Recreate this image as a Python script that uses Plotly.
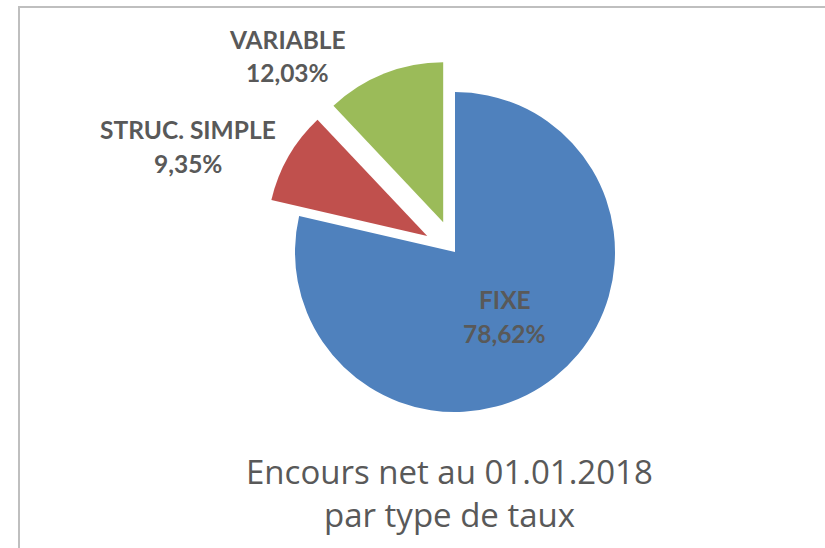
import plotly.graph_objects as go

categories = ["FIXE", "STRUC. SIMPLE", "VARIABLE"]
values = [78.62, 9.35, 12.03]
pulls = [0.0, 0.2, 0.2]
colors = ["#4F81BD", "#C0504D", "#9BBB59"]
title_lines = ["Encours net au 01.01.2018", "par type de taux"]

W, H = 825, 548
cx, cy, R = 455, 252, 160
half = R * (1 + max(pulls))

fig = go.Figure(go.Pie(
    labels=categories, values=values, pull=pulls, sort=False,
    direction="clockwise", rotation=0,
    marker=dict(colors=colors, line=dict(width=0)),
    textinfo="none", hoverinfo="label+percent", showlegend=False,
    domain=dict(x=[(cx - half) / W, (cx + half) / W],
                y=[(H - cy - half) / H, (H - cy + half) / H]),
))

def fmt(v):
    return f"{v:.2f}".replace(".", ",") + "%"

# (x center, y of name line, y of value line) in pixels from top
label_pos = {"FIXE": (505, 299, 333), "STRUC. SIMPLE": (188, 129, 163), "VARIABLE": (287, 39, 72)}
lab_font = dict(family="Lato, sans-serif", size=24.5, color="#595959")
ann = []
for c, v in zip(categories, values):
    x, y1, y2 = label_pos[c]
    for txt, yy in ((c, y1), (fmt(v), y2)):
        ann.append(dict(x=x / W, y=1 - yy / H, xref="paper", yref="paper",
                        text=f"<b>{txt}</b>", showarrow=False, font=lab_font,
                        xanchor="center", yanchor="middle"))
for txt, yy in zip(title_lines, (471, 514)):
    ann.append(dict(x=450 / W, y=1 - yy / H, xref="paper", yref="paper",
                    text=txt, showarrow=False,
                    font=dict(family="Open Sans, sans-serif", size=33, color="#595959"),
                    xanchor="center", yanchor="middle"))

fig.update_layout(
    width=W, height=H, margin=dict(l=0, r=0, t=0, b=0),
    paper_bgcolor="white", plot_bgcolor="white",
    annotations=ann,
    shapes=[
        dict(type="line", xref="paper", yref="paper", x0=19 / W, x1=19 / W, y0=0, y1=1 - 7 / H,
             line=dict(color="#BFBFBF", width=2)),
        dict(type="line", xref="paper", yref="paper", x0=18 / W, x1=1, y0=1 - 7 / H, y1=1 - 7 / H,
             line=dict(color="#BFBFBF", width=2)),
    ],
)
fig.write_html("out.html", config={"displayModeBar": False},
               post_script="document.body.style.margin='0';")
